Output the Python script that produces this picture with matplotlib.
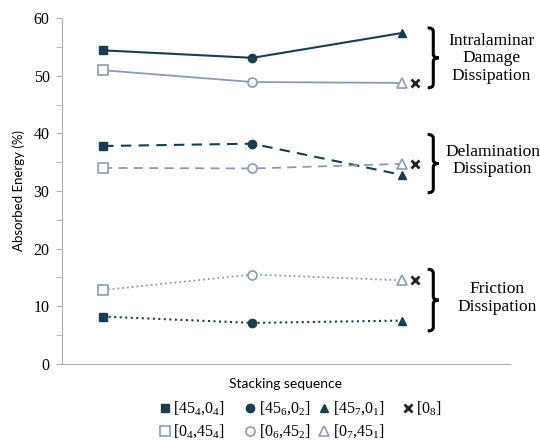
import numpy as np
import matplotlib.pyplot as plt
from matplotlib.path import Path
from matplotlib.patches import PathPatch
from matplotlib.ticker import MultipleLocator

# stacking sequences (x positions are just the index)
positions = [0, 1, 2]
x_pos_08 = 2.09

# absorbed energy (%)
intra_45 = [54.4, 53.1, 57.4]
intra_0 = [50.95, 48.9, 48.75]
intra_08 = 48.7
delam_45 = [37.8, 38.2, 32.8]
delam_0 = [34.0, 33.9, 34.7]
delam_08 = 34.7
fric_45 = [8.2, 7.1, 7.5]
fric_0 = [12.8, 15.5, 14.5]
fric_08 = 14.5

labels_45 = [r'[45$_4$,0$_4$]', r'[45$_6$,0$_2$]', r'[45$_7$,0$_1$]']
labels_0 = [r'[0$_4$,45$_4$]', r'[0$_6$,45$_2$]', r'[0$_7$,45$_1$]']
label_08 = r'[0$_8$]'

groups = ['Intralaminar\nDamage\nDissipation',
          'Delamination\nDissipation',
          'Friction\nDissipation']
group_text_x = [2.6, 2.61, 2.64]
group_text_y = [53.0, 35.3, 11.4]
brace_spans = [(47.9, 58.3), (29.7, 39.8), (5.7, 16.4)]

dark = '#1b3d4e'
light = '#8c9bb2'
markers = ['s', 'o', '^']

plt.rcParams['font.family'] = ['Liberation Serif', 'DejaVu Sans']
plt.rcParams['mathtext.fontset'] = 'custom'
plt.rcParams['mathtext.rm'] = 'Liberation Serif'


def draw_brace(ax, x0, y0, y1, w=0.075):
    ym = (y0 + y1) / 2
    k = (y1 - y0) * 0.06
    xm = x0 + w * 0.5
    verts = [(x0, y1), (xm, y1), (xm, y1 - k),
             (xm, ym + k),
             (xm, ym), (x0 + w, ym),
             (xm, ym), (xm, ym - k),
             (xm, y0 + k),
             (xm, y0), (x0, y0)]
    codes = [Path.MOVETO, Path.CURVE3, Path.CURVE3,
             Path.LINETO,
             Path.CURVE3, Path.CURVE3,
             Path.CURVE3, Path.CURVE3,
             Path.LINETO,
             Path.CURVE3, Path.CURVE3]
    ax.add_patch(PathPatch(Path(verts, codes), fill=False, lw=2.2,
                           color='black', clip_on=False, capstyle='butt'))


fig = plt.figure(figsize=(5.4, 4.41), dpi=100)
ax = fig.add_axes([0.115, 0.175, 0.829, 0.784])

styles = ['-', (0, (5, 3.5)), ':']
series = [(intra_45, intra_0, intra_08),
          (delam_45, delam_0, delam_08),
          (fric_45, fric_0, fric_08)]

for ls, (s45, s0, s08) in zip(styles, series):
    ax.plot(positions, s45, color=dark, lw=1.5, ls=ls, zorder=2)
    ax.plot(positions, s0, color=light, lw=1.3, ls=ls, zorder=2)
    for i in range(3):
        ax.plot(positions[i], s45[i], marker=markers[i], color=dark,
                ms=6, ls='none', zorder=3)
        ax.plot(positions[i], s0[i], marker=markers[i], mfc='white',
                mec=light, mew=1.2, ms=6.5, ls='none', zorder=3)
    ax.plot(x_pos_08, s08, marker='x', color='#222222', ms=6, mew=2,
            ls='none', zorder=3)

for name, tx, ty, (b0, b1) in zip(groups, group_text_x, group_text_y,
                                  brace_spans):
    draw_brace(ax, 2.175, b0, b1)
    ax.text(tx, ty, name, ha='center', va='center', fontsize=12.5,
            linespacing=1.12, clip_on=False)

ax.set_xlim(-0.275, 2.725)
ax.set_ylim(0, 60)
ax.yaxis.set_major_locator(MultipleLocator(10))
ax.yaxis.set_minor_locator(MultipleLocator(5))
ax.tick_params(axis='y', which='both', direction='out', length=4,
               color='#b0b0b0', labelsize=11.5, pad=5)
ax.set_xticks([])
for side in ['top', 'right']:
    ax.spines[side].set_visible(False)
for side in ['left', 'bottom']:
    ax.spines[side].set_color('#b0b0b0')

ax.set_xlabel('Stacking sequence', fontsize=10, family=['Lato', 'DejaVu Sans'],
              labelpad=10)
ax.set_ylabel('Absorbed Energy (%)', fontsize=9.5,
              family=['Lato', 'DejaVu Sans'], labelpad=6)

# legend (markers only): one small legend per column, as in the original
legend_x = [0.296, 0.454, 0.591, 0.746]
legend_kw = dict(frameon=False, fontsize=11.5, handlelength=0.6,
                 handletextpad=0.25, labelspacing=0.3, borderpad=0,
                 borderaxespad=0, loc='center left')
for i in range(3):
    h45 = plt.Line2D([], [], marker=markers[i], color=dark, ls='none', ms=6)
    h0 = plt.Line2D([], [], marker=markers[i], mfc='white', mec=light,
                    mew=1.2, ls='none', ms=6.5)
    leg = fig.legend([h45, h0], [labels_45[i], labels_0[i]],
                     bbox_to_anchor=(legend_x[i], 0.0465), **legend_kw)
h08 = plt.Line2D([], [], marker='x', color='#222222', mew=2, ls='none', ms=6)
fig.legend([h08], [label_08], bbox_to_anchor=(legend_x[3], 0.0726),
           **legend_kw)

fig.savefig('out.png', dpi=100)
